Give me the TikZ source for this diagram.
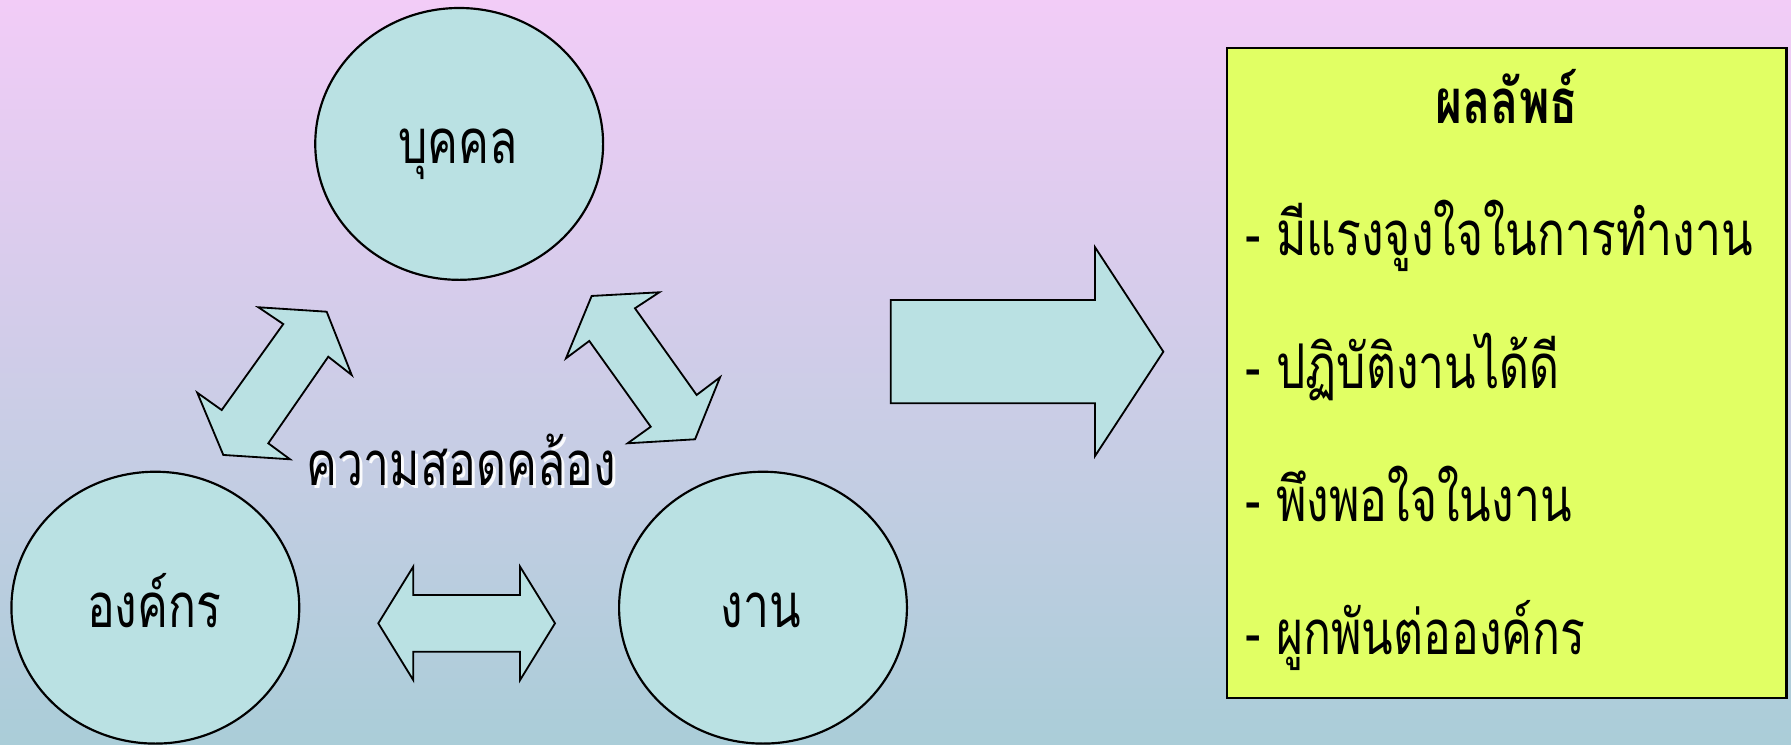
\documentclass[tikz,border=0pt]{standalone}
\usepackage{fontspec}
\usetikzlibrary{shapes.geometric}
\newfontfamily\thai[Script=Thai,FakeStretch=0.75]{Loma}
\definecolor{bgtop}{RGB}{242,204,247}
\definecolor{bgbot}{RGB}{170,205,216}
\definecolor{blobfill}{RGB}{186,225,227}
\definecolor{boxfill}{RGB}{225,255,100}
\begin{document}
\begin{tikzpicture}[x=1pt,y=-1pt,
  blob/.style={ellipse,draw=black,fill=blobfill,line width=1.9pt,minimum width=252pt,minimum height=238pt,inner sep=0pt},
  blockarrow/.style={draw=black,fill=blobfill,line width=1.6pt,line join=miter},
  txt/.style={font=\thai\fontsize{54}{60}\selectfont,inner sep=0pt,anchor=base},
  itemtxt/.style={font=\thai\fontsize{54}{60}\selectfont,inner sep=0pt,anchor=base west},
  titletxt/.style={font=\thai\bfseries\fontsize{54}{60}\selectfont,inner sep=0pt,anchor=base}]
\useasboundingbox (0,0) rectangle (1568,652);
\shade[top color=bgtop,bottom color=bgbot] (0,0) rectangle (1568,652);
% ellipses
\node[blob] (person) at (402,126) {};
\node[blob] (org) at (136,532) {};
\node[blob] (work) at (668,532) {};
\node[txt] (personT) at (401,143) {บุคคล};
\node[txt] (orgT) at (135,549) {องค์กร};
\node[txt] (workT) at (666,549) {งาน};
% diagonal arrows
\draw[blockarrow] (226.2,269) -- (286,272.9) -- (307.9,328.3) -- (287.4,312.3) -- (234.9,388.1) -- (253.9,402.1) -- (195.5,398.3) -- (172.7,343.8) -- (194.1,359) -- (248,283.7) -- cycle;
\draw[blockarrow] (518,259.1) -- (577.2,255.9) -- (555.9,269.9) -- (609.9,345.8) -- (630.4,330.3) -- (608.5,384.6) -- (549.5,388.1) -- (569.7,373.6) -- (515.9,298.5) -- (495.5,313.7) -- cycle;
% horizontal double arrow
\draw[blockarrow] (331.2,545.7) -- (361.8,496.1) -- (361.8,520.9) -- (455.3,520.9) -- (455.3,496.1) -- (485.9,545.7) -- (455.3,595.4) -- (455.3,570.6) -- (361.8,570.6) -- (361.8,595.4) -- cycle;
% big arrow
\draw[blockarrow] (779.8,262.7) -- (958.7,262.7) -- (958.7,216.5) -- (1018.5,307.9) -- (958.7,399.2) -- (958.7,353.1) -- (779.8,353.1) -- cycle;
% centre label with shadow
\node[txt,text=white,opacity=0.9] (harmS) at (406.5,427.5) {ความสอดคล้อง};
\node[txt] (harm) at (404,425) {ความสอดคล้อง};
% result box
\node[draw=black,fill=boxfill,line width=1.9pt,minimum width=490pt,minimum height=569pt,inner sep=0pt] (box) at (1319,326.5) {};
\node[titletxt] (title) at (1319,108) {ผลลัพธ์};
\node[itemtxt] (i1) at (1090,224) {- มีแรงจูงใจในการทำงาน};
\node[itemtxt] (i2) at (1090,340) {- ปฏิบัติงานได้ดี};
\node[itemtxt] (i3) at (1090,457) {- พึงพอใจในงาน};
\node[itemtxt] (i4) at (1090,573) {- ผูกพันต่อองค์กร};
\end{tikzpicture}
\end{document}
